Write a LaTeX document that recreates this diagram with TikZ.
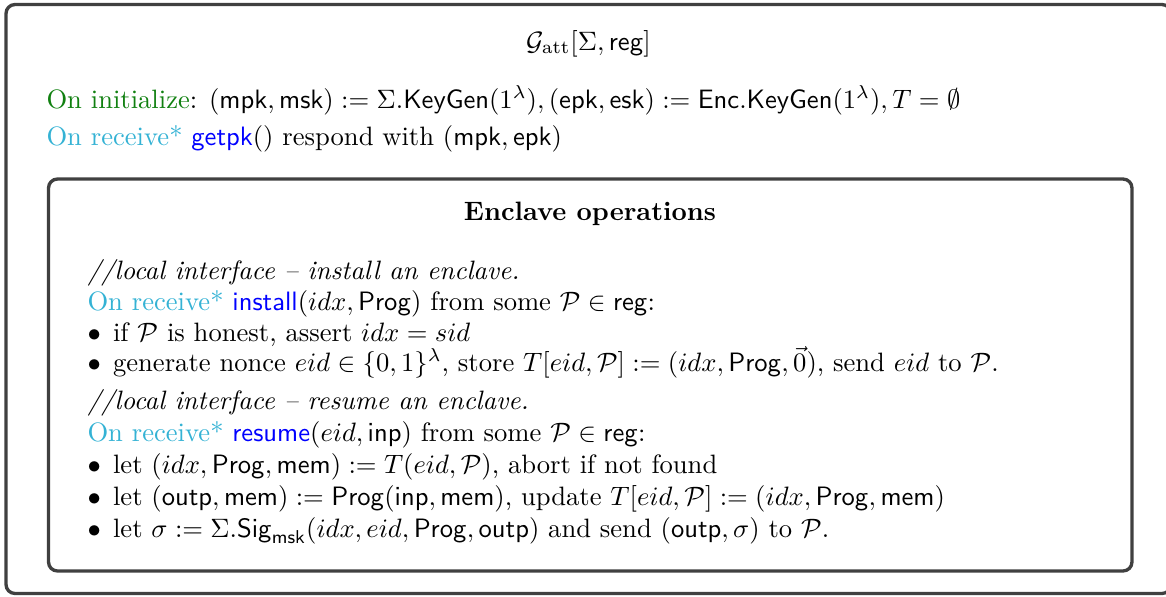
\documentclass[tikz,border=0pt]{standalone}
\usepackage{amsmath,amssymb}
\definecolor{initgreen}{RGB}{16,128,16}
\definecolor{recvcyan}{RGB}{52,178,212}
\definecolor{cmdblue}{RGB}{0,0,255}
\definecolor{boxgray}{RGB}{64,64,64}
\newcommand{\onrecv}{\textcolor{recvcyan}{On receive*}}
\newcommand{\cmd}[1]{\textcolor{cmdblue}{\textsf{#1}}}
\newcommand{\Pp}{\mathcal{P}}
\newcommand{\bul}{\makebox[9.6pt][l]{$\bullet$}}
\begin{document}
\begin{tikzpicture}[x=0.37594pt,y=-0.37594pt,
  boxline/.style={draw=boxgray,line width=1.25pt,rounded corners=3.4pt},
  txt/.style={anchor=base west,inner sep=0pt},
  ctr/.style={anchor=base,inner sep=0pt}]
\clip (0,0) rectangle (1166,596);
\draw[boxline] (6,4.5) rectangle (1171,593.5);
\draw[boxline] (48.5,179) rectangle (1132,571);
\node[ctr] (title) at (588.5,50) {$\mathcal{G}_{\mathrm{att}}[\Sigma,\mathsf{reg}]$};
\node[txt] (init) at (46,108) {\textcolor{initgreen}{On initialize}: $(\mathsf{mpk},\mathsf{msk}) := \Sigma.\mathsf{KeyGen}(1^{\lambda}), (\mathsf{epk},\mathsf{esk}) := \mathsf{Enc}.\mathsf{KeyGen}(1^{\lambda}), T = \emptyset$};
\node[txt] (getpk) at (46,145) {\onrecv{} \cmd{getpk}() respond with $(\mathsf{mpk},\mathsf{epk})$};
\node[ctr] (enc) at (590,220) {\textbf{Enclave operations}};
\node[txt] (c1) at (87,279) {\textit{//local interface -- install an enclave.}};
\node[txt] (r1) at (87,310) {\onrecv{} \cmd{install}$(idx,\mathsf{Prog})$ from some $\Pp\in\mathsf{reg}$:};
\node[txt] (b1) at (87,341) {\bul if $\Pp$ is honest, assert $idx = sid$};
\node[txt] (b2) at (87,371) {\bul generate nonce $eid\in\{0,1\}^{\lambda}$, store $T[eid,\Pp] := (idx,\mathsf{Prog},\vec{0})$, send $eid$ to $\Pp$.};
\node[txt] (c2) at (87,409) {\textit{//local interface -- resume an enclave.}};
\node[txt] (r2) at (87,441) {\onrecv{} \cmd{resume}$(eid,\mathsf{inp})$ from some $\Pp\in\mathsf{reg}$:};
\node[txt] (b3) at (87,473) {\bul let $(idx,\mathsf{Prog},\mathsf{mem}) := T(eid,\Pp)$, abort if not found};
\node[txt] (b4) at (87,505) {\bul let $(\mathsf{outp},\mathsf{mem}) := \mathsf{Prog}(\mathsf{inp},\mathsf{mem})$, update $T[eid,\Pp] := (idx,\mathsf{Prog},\mathsf{mem})$};
\node[txt] (b5) at (87,537) {\bul let $\sigma := \Sigma.\mathsf{Sig}_{\mathsf{msk}}(idx,eid,\mathsf{Prog},\mathsf{outp})$ and send $(\mathsf{outp},\sigma)$ to $\Pp$.};
\end{tikzpicture}
\end{document}
